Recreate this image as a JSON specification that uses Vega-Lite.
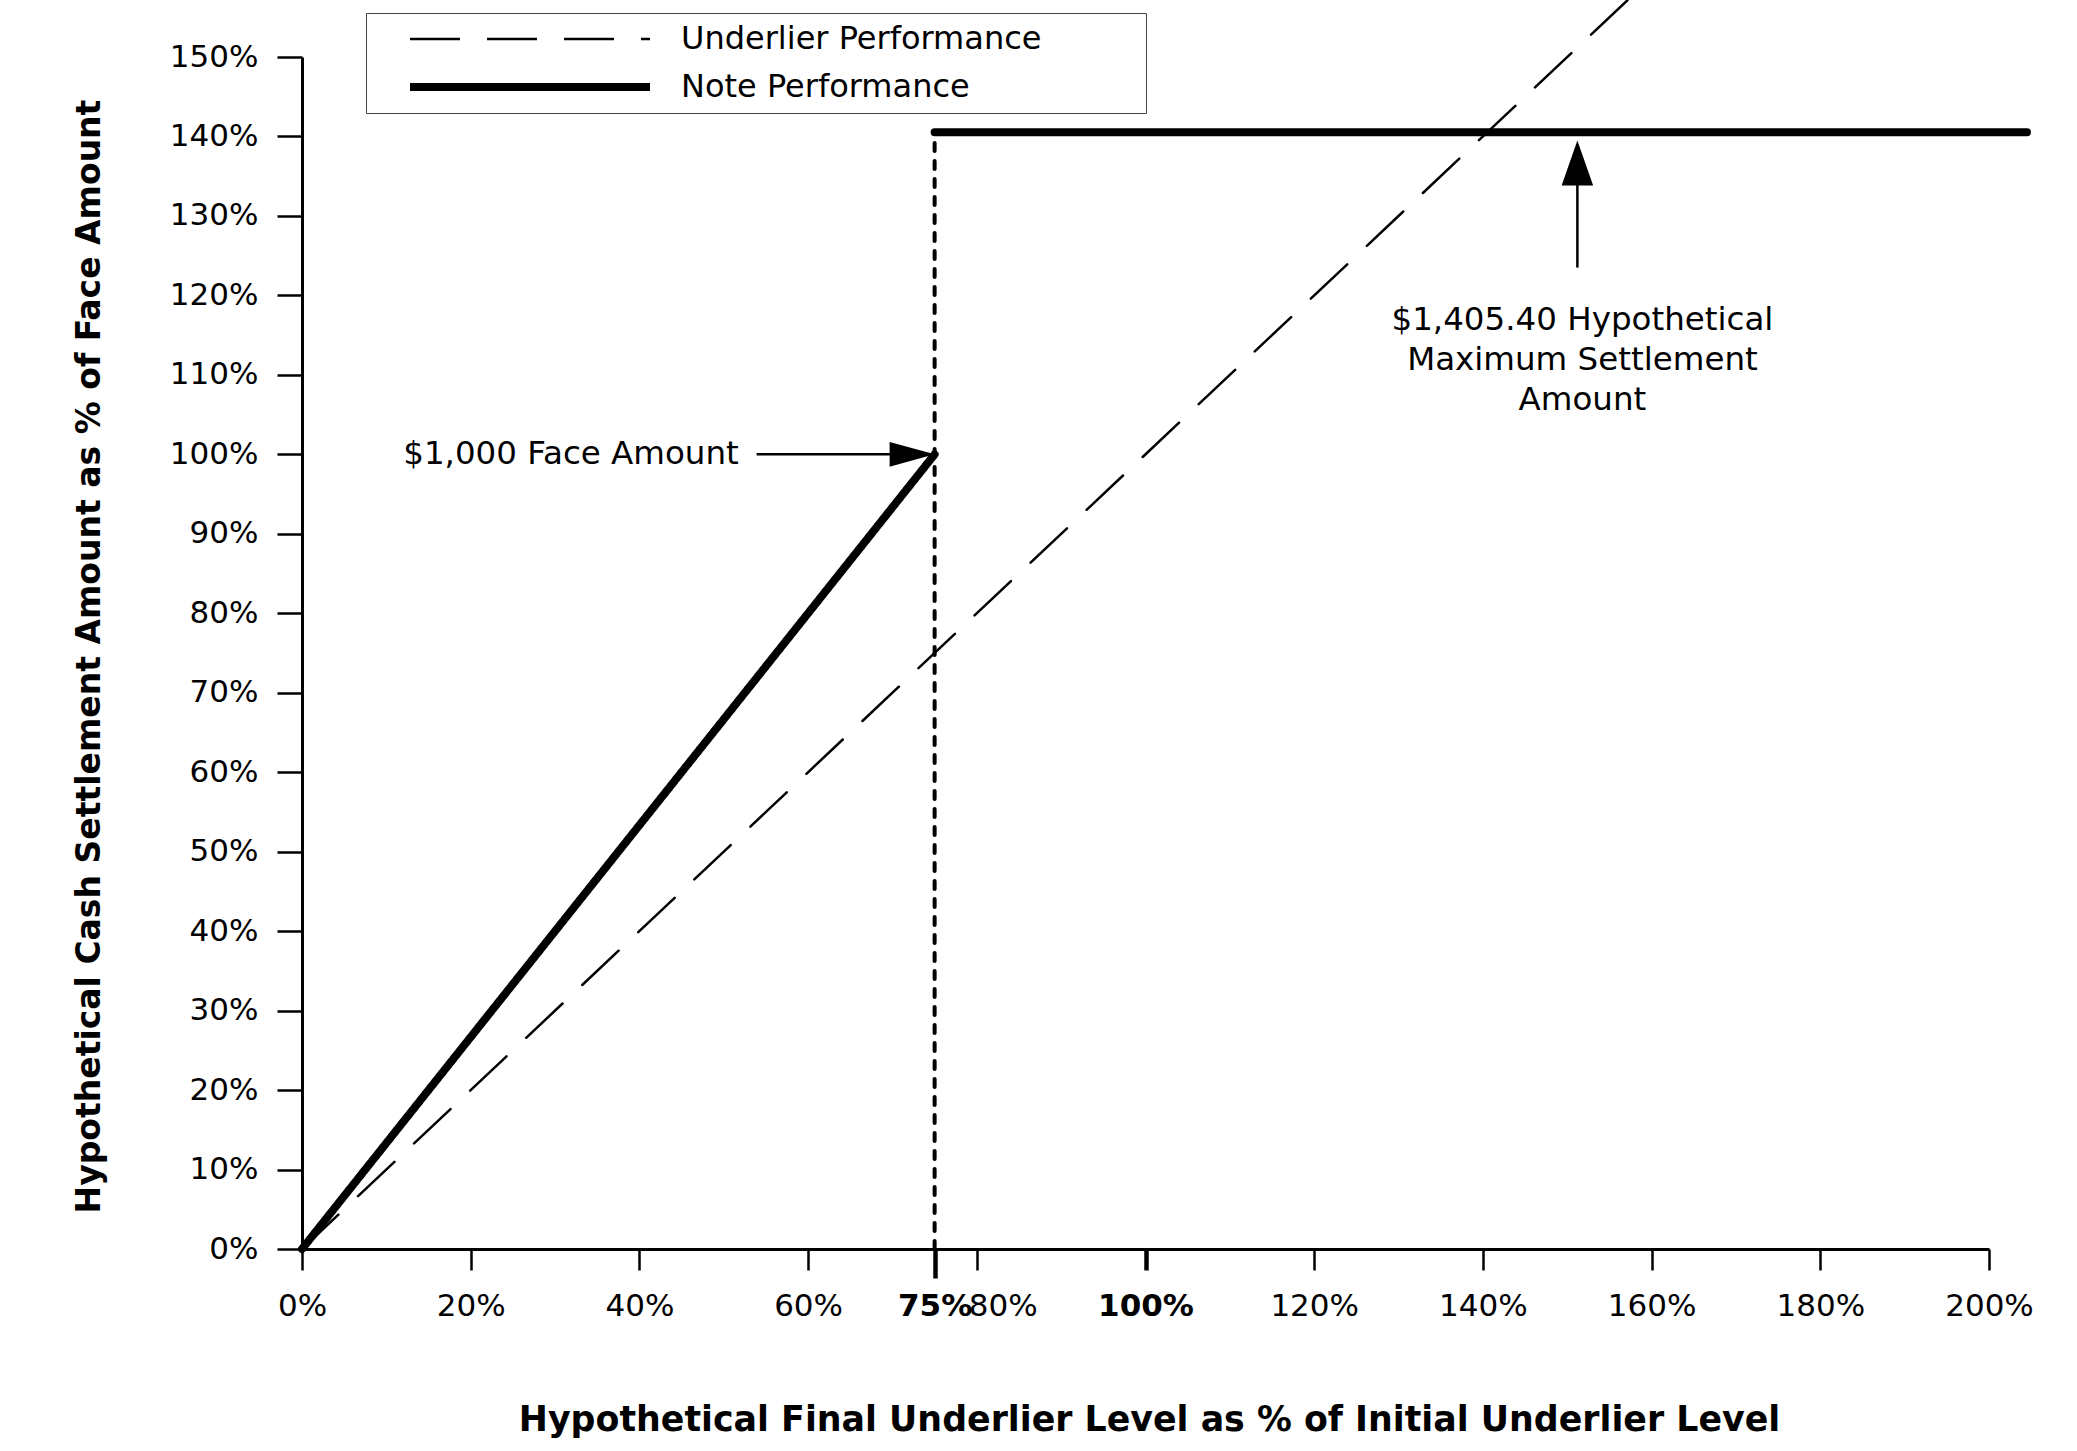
{
  "$schema": "https://vega.github.io/schema/vega-lite/v6.json",
  "width": 1687,
  "height": 1192,
  "autosize": "none",
  "padding": {"left": 302, "top": 57, "right": 88, "bottom": 202},
  "background": "white",
  "config": {"view": {"stroke": null}, "font": "DejaVu Sans"},
  "datasets": {
    "perf": [
      {"level": 0, "value": 0, "series": "Underlier Performance", "part": "underlier"},
      {"level": 158, "value": 158, "series": "Underlier Performance", "part": "underlier"},
      {"level": 0, "value": 0, "series": "Note Performance", "part": "note-rise"},
      {"level": 75, "value": 100, "series": "Note Performance", "part": "note-rise"},
      {"level": 75, "value": 140.54, "series": "Note Performance", "part": "note-cap"},
      {"level": 204.5, "value": 140.54, "series": "Note Performance", "part": "note-cap"}
    ],
    "jump": [
      {"level": 75, "value": 0},
      {"level": 75, "value": 140.54}
    ],
    "shafts": [
      {"level": 53.9, "level2": 70, "value": 100, "value2": 100},
      {"level": 151.2, "level2": 151.2, "value": 123.5, "value2": 134.5}
    ],
    "heads": [
      {"level": 75, "value": 100, "dir": "right"},
      {"level": 151.2, "value": 139.5, "dir": "up"}
    ],
    "faceNote": [
      {"label": "$1,000 Face Amount", "level": 12, "value": 100}
    ],
    "capNote": [
      {"label": "$1,405.40 Hypothetical\nMaximum Settlement\nAmount", "level": 151.8, "value": 115.7}
    ]
  },
  "layer": [
    {
      "data": {"name": "perf"},
      "mark": {"type": "line", "color": "black", "strokeCap": "round"},
      "encoding": {
        "x": {
          "field": "level",
          "type": "quantitative",
          "scale": {"domain": [0, 200], "nice": false},
          "axis": {
            "values": [0, 20, 40, 60, 75, 80, 100, 120, 140, 160, 180, 200],
            "labelExpr": "datum.value + '%'",
            "grid": false,
            "domainColor": "black",
            "domainWidth": 3,
            "tickColor": "black",
            "tickSize": {"condition": {"test": "datum.value == 75", "value": 29}, "value": 21},
            "tickWidth": {"condition": {"test": "datum.value == 75 || datum.value == 100", "value": 4.5}, "value": 2.5},
            "labelFontSize": 31,
            "labelColor": "black",
            "labelFontWeight": {"condition": {"test": "datum.value == 75 || datum.value == 100", "value": "bold"}, "value": "normal"},
            "labelOffset": {"condition": {"test": "datum.value == 80", "value": 26}, "value": 0},
            "labelPadding": {"condition": {"test": "datum.value == 75", "value": 13}, "value": 21},
            "labelOverlap": false,
            "labelFlush": false,
            "title": "Hypothetical Final Underlier Level as % of Initial Underlier Level",
            "titleFontSize": 34.8,
            "titleFontWeight": "bold",
            "titleColor": "black",
            "titleX": 847,
            "titleY": 181,
            "titleAlign": "center",
            "titleBaseline": "alphabetic"
          }
        },
        "y": {
          "field": "value",
          "type": "quantitative",
          "scale": {"domain": [0, 150], "nice": false},
          "axis": {
            "values": [0, 10, 20, 30, 40, 50, 60, 70, 80, 90, 100, 110, 120, 130, 140, 150],
            "labelExpr": "datum.value + '%'",
            "grid": false,
            "domainColor": "black",
            "domainWidth": 3,
            "tickColor": "black",
            "tickSize": 25,
            "tickWidth": 2.5,
            "labelFontSize": 31,
            "labelColor": "black",
            "labelPadding": 19,
            "labelOverlap": false,
            "labelFlush": false,
            "title": "Hypothetical Cash Settlement Amount as % of Face Amount",
            "titleFontSize": 33,
            "titleFontWeight": "bold",
            "titleColor": "black",
            "titleAngle": -90,
            "titleX": -213,
            "titleY": 599,
            "titleAlign": "center",
            "titleBaseline": "middle"
          }
        },
        "detail": {"field": "part"},
        "strokeDash": {
          "field": "series",
          "type": "nominal",
          "scale": {"domain": ["Underlier Performance", "Note Performance"], "range": [[50, 27], [1, 0]]},
          "legend": {
            "title": "\u00a0",
            "titleOrient": "right",
            "titlePadding": 95,
            "titleFontSize": 31,
            "orient": "none",
            "legendX": 64,
            "legendY": -44,
            "strokeColor": "#444",
            "fillColor": "white",
            "padding": 10,
            "symbolType": "M -10 0 L 10 0",
            "symbolSize": 576,
            "symbolOffset": 138,
            "symbolStrokeColor": "black",
            "labelFontSize": 32,
            "labelColor": "black",
            "labelLimit": 800,
            "labelOffset": 135,
            "rowPadding": 16
          }
        },
        "strokeWidth": {
          "field": "series",
          "type": "nominal",
          "scale": {"domain": ["Underlier Performance", "Note Performance"], "range": [2.5, 8]},
          "legend": {
            "title": "\u00a0",
            "titleOrient": "right",
            "titlePadding": 95,
            "titleFontSize": 31,
            "orient": "none",
            "legendX": 64,
            "legendY": -44,
            "strokeColor": "#444",
            "fillColor": "white",
            "padding": 10,
            "symbolType": "M -10 0 L 10 0",
            "symbolSize": 576,
            "symbolOffset": 138,
            "symbolStrokeColor": "black",
            "labelFontSize": 32,
            "labelColor": "black",
            "labelLimit": 800,
            "labelOffset": 135,
            "rowPadding": 16
          }
        }
      }
    },
    {
      "data": {"name": "jump"},
      "mark": {"type": "line", "color": "black", "strokeWidth": 4, "strokeDash": [8, 10], "strokeCap": "round"},
      "encoding": {
        "x": {"field": "level", "type": "quantitative"},
        "y": {"field": "value", "type": "quantitative"}
      }
    },
    {
      "data": {"name": "shafts"},
      "mark": {"type": "rule", "color": "black", "strokeWidth": 2.5},
      "encoding": {
        "x": {"field": "level", "type": "quantitative"},
        "x2": {"field": "level2"},
        "y": {"field": "value", "type": "quantitative"},
        "y2": {"field": "value2"}
      }
    },
    {
      "data": {"name": "heads"},
      "mark": {"type": "point", "filled": true, "color": "black", "opacity": 1, "size": 2025},
      "encoding": {
        "x": {"field": "level", "type": "quantitative"},
        "y": {"field": "value", "type": "quantitative"},
        "shape": {
          "field": "dir",
          "type": "nominal",
          "scale": {"domain": ["right", "up"], "range": ["M 0 0 L -2 -0.55 L -2 0.55 Z", "M 0 0 L -0.7 2 L 0.7 2 Z"]},
          "legend": null
        }
      }
    },
    {
      "data": {"name": "faceNote"},
      "mark": {"type": "text", "align": "left", "baseline": "middle", "fontSize": 32.5, "color": "black"},
      "encoding": {
        "x": {"field": "level", "type": "quantitative"},
        "y": {"field": "value", "type": "quantitative"},
        "text": {"field": "label"}
      }
    },
    {
      "data": {"name": "capNote"},
      "mark": {"type": "text", "align": "center", "baseline": "alphabetic", "fontSize": 32.5, "lineHeight": 40, "lineBreak": "\n", "color": "black"},
      "encoding": {
        "x": {"field": "level", "type": "quantitative"},
        "y": {"field": "value", "type": "quantitative"},
        "text": {"field": "label"}
      }
    }
  ]
}
